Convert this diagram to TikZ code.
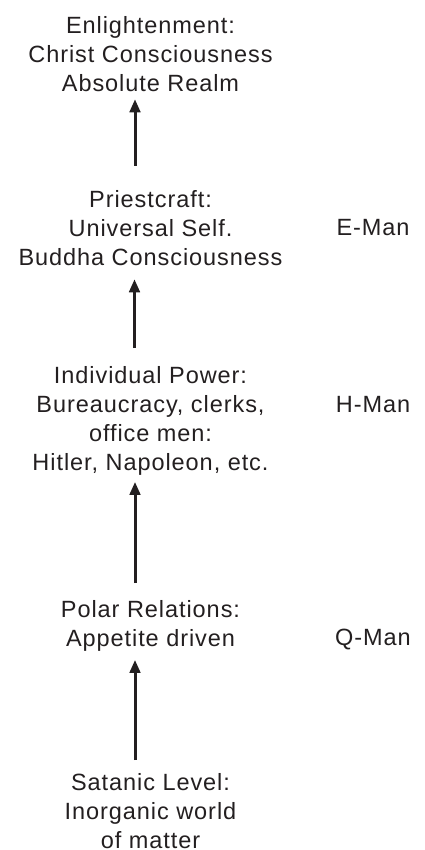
\documentclass[tikz,border=0pt]{standalone}
\usepackage{fontspec}
\setmainfont[LetterSpace=4]{Liberation Sans}
\usetikzlibrary{arrows.meta}
\definecolor{ink}{HTML}{231F20}
\tikzset{
  lvl/.style={inner sep=0pt, outer sep=0pt, align=center, text=ink, anchor=north,
    font=\fontsize{23.5}{29}\selectfont},
  side/.style={inner sep=0pt, outer sep=0pt, text=ink, anchor=base,
    font=\fontsize{23.5}{29}\selectfont},
  arr/.style={draw=ink, line width=3pt, -{Triangle[length=13pt,width=10.5pt]}}
}
\begin{document}
\begin{tikzpicture}[x=1pt,y=1pt]
\useasboundingbox (0,0) rectangle (425,-850);
\node[lvl] (b1) at (150.5,-16) {Enlightenment:\\Christ Consciousness\\Absolute Realm};
\node[lvl] (b2) at (150.5,-190) {Priestcraft:\\Universal Self.\\Buddha Consciousness};
\node[lvl] (b3) at (150.5,-366) {Individual Power:\\Bureaucracy, clerks,\\office men:\\Hitler, Napoleon, etc.};
\node[lvl] (b4) at (150.5,-600) {Polar Relations:\\Appetite driven};
\node[lvl] (b5) at (150.5,-773) {Satanic Level:\\Inorganic world\\of matter};
\node[side] (e) at (373,-236) {E-Man};
\node[side] (h) at (373,-412) {H-Man};
\node[side] (q) at (373,-645) {Q-Man};
\draw[arr] ([xshift=-15.5pt,yshift=24pt]b2.north) -- ([xshift=-15.5pt,yshift=-8pt]b1.south);
\draw[arr] ([xshift=-16pt,yshift=18pt]b3.north) -- ([xshift=-16pt,yshift=-14pt]b2.south);
\draw[arr] ([xshift=-15.5pt,yshift=17pt]b4.north) -- ([xshift=-15.5pt,yshift=-7pt]b3.south);
\draw[arr] ([xshift=-15.5pt,yshift=13pt]b5.north) -- ([xshift=-15.5pt,yshift=-9pt]b4.south);
\end{tikzpicture}
\end{document}
